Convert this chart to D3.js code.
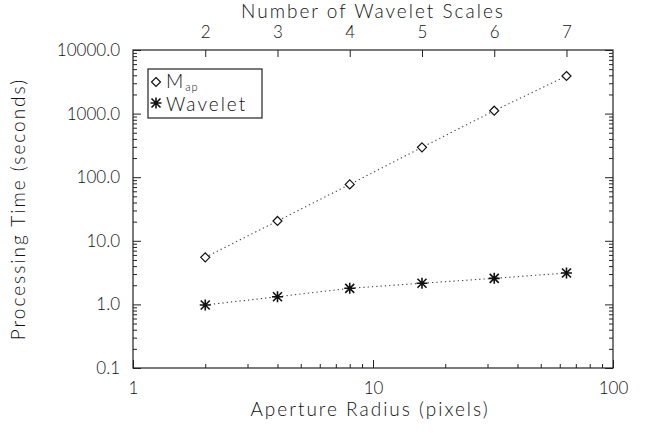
<!DOCTYPE html>
<html>
<head>
<meta charset="utf-8">
<script src="https://cdn.jsdelivr.net/npm/d3@7"></script>
<style>
  body { margin: 0; background: #fff; }
  svg text { font-family: Lato, "Liberation Sans", sans-serif; font-weight: 300; fill: #111; }
</style>
</head>
<body>
<div id="chart"></div>
<script>
// aperture radius (pixels), one point per wavelet scale
var radii = [2, 4, 8, 16, 32, 64]
var scales = [2, 3, 4, 5, 6, 7]
var mapTimes = [5.5, 20.5, 77, 295, 1110, 3900]
var waveletTimes = [0.98, 1.32, 1.79, 2.15, 2.57, 3.12]
var yTicks = [0.1, 1, 10, 100, 1000, 10000]
var xTicks = [1, 10, 100]

var W = 649, H = 433
var m = {left: 133, right: 36, top: 50, bottom: 65}

var svg = d3.select("#chart").append("svg")
    .attr("width", W).attr("height", H)

var x = d3.scaleLog().domain([1, 100]).range([m.left, W - m.right])
var y = d3.scaleLog().domain([0.1, 10000]).range([H - m.bottom, m.top])

// minor ticks for log axes
function minors(lo, hi) {
    var out = []
    for (var d = lo; d < hi; d *= 10)
        for (var k = 2; k < 10; k++) out.push(d * k)
    return out
}
var xMinor = minors(1, 100)
var yMinor = minors(0.1, 10000)

var fmtY = d3.format(".1f")

function styleAxis(g) {
    g.select(".domain").remove()
    g.selectAll("line").attr("stroke", "#222").attr("stroke-width", 1)
    g.selectAll("text").attr("font-size", "17px").attr("fill", "#111")
        .attr("font-family", "Lato, Liberation Sans, sans-serif")
        .attr("font-weight", 300)
}

// bottom axis
svg.append("g").attr("transform", "translate(0," + y.range()[0] + ")")
    .call(d3.axisBottom(x).tickValues(xTicks).tickFormat(d3.format("d"))
        .tickSizeInner(-8).tickSizeOuter(0).tickPadding(14))
    .call(styleAxis)
svg.append("g").attr("transform", "translate(0," + y.range()[0] + ")")
    .call(d3.axisBottom(x).tickValues(xMinor).tickFormat("")
        .tickSizeInner(-4).tickSizeOuter(0))
    .call(styleAxis)

// top axis: wavelet scales
svg.append("g").attr("transform", "translate(0," + m.top + ")")
    .call(d3.axisTop(x).tickValues(radii).tickFormat(function(d, i) { return scales[i] })
        .tickSizeInner(-7).tickSizeOuter(0).tickPadding(12))
    .call(styleAxis)

// left axis
svg.append("g").attr("transform", "translate(" + m.left + ",0)")
    .call(d3.axisLeft(y).tickValues(yTicks).tickFormat(fmtY)
        .tickSizeInner(-8).tickSizeOuter(0).tickPadding(13))
    .call(styleAxis)
svg.append("g").attr("transform", "translate(" + m.left + ",0)")
    .call(d3.axisLeft(y).tickValues(yMinor).tickFormat("")
        .tickSizeInner(-4).tickSizeOuter(0))
    .call(styleAxis)

// right axis (ticks only)
svg.append("g").attr("transform", "translate(" + (W - m.right) + ",0)")
    .call(d3.axisRight(y).tickValues(yTicks).tickFormat("")
        .tickSizeInner(-8).tickSizeOuter(0))
    .call(styleAxis)
svg.append("g").attr("transform", "translate(" + (W - m.right) + ",0)")
    .call(d3.axisRight(y).tickValues(yMinor).tickFormat("")
        .tickSizeInner(-4).tickSizeOuter(0))
    .call(styleAxis)

// frame
svg.append("rect")
    .attr("x", m.left).attr("y", m.top)
    .attr("width", W - m.right - m.left).attr("height", H - m.bottom - m.top)
    .attr("fill", "none").attr("stroke", "#222").attr("stroke-width", 1.2)

// titles
svg.append("text").attr("x", 370).attr("y", 416).attr("text-anchor", "middle")
    .attr("font-size", "19px").attr("letter-spacing", "2px")
    .text("Aperture Radius (pixels)")
svg.append("text").attr("x", 373).attr("y", 18).attr("text-anchor", "middle")
    .attr("font-size", "19px").attr("letter-spacing", "2px")
    .text("Number of Wavelet Scales")
svg.append("text").attr("transform", "translate(25,209) rotate(-90)")
    .attr("text-anchor", "middle")
    .attr("font-size", "19px").attr("letter-spacing", "2px")
    .text("Processing Time (seconds)")

// lines
var line = d3.line().x(function(d) { return x(d[0]) }).y(function(d) { return y(d[1]) })
function series(vals) { return radii.map(function(r, i) { return [r, vals[i]] }) }

svg.append("path").datum(series(mapTimes)).attr("d", line)
    .attr("fill", "none").attr("stroke", "#444").attr("stroke-width", 1.1)
    .attr("stroke-dasharray", "1.3,3")
svg.append("path").datum(series(waveletTimes)).attr("d", line)
    .attr("fill", "none").attr("stroke", "#444").attr("stroke-width", 1.1)
    .attr("stroke-dasharray", "1.3,3")

function diamond(g, cx, cy) {
    var s = 4.5
    g.append("path")
        .attr("d", "M" + cx + "," + (cy - s) + "L" + (cx + s) + "," + cy + "L" + cx + "," + (cy + s) + "L" + (cx - s) + "," + cy + "Z")
        .attr("fill", "#fff").attr("stroke", "#111").attr("stroke-width", 1.2)
}
function star(g, cx, cy) {
    var s = 5.5, d = 4.5
    g.append("path")
        .attr("d", "M" + cx + "," + (cy - s) + "V" + (cy + s) +
            "M" + (cx - d) + "," + (cy - d) + "L" + (cx + d) + "," + (cy + d) +
            "M" + (cx - d) + "," + (cy + d) + "L" + (cx + d) + "," + (cy - d) +
            "M" + (cx - s) + "," + cy + "H" + (cx + s))
        .attr("stroke", "#111").attr("stroke-width", 1.6)
}

var pts = svg.append("g")
radii.forEach(function(r, i) {
    diamond(pts, x(r), y(mapTimes[i]))
    star(pts, x(r), y(waveletTimes[i]))
})

// legend
var lg = svg.append("g")
lg.append("rect").attr("x", 148).attr("y", 69).attr("width", 114).attr("height", 49)
    .attr("fill", "#fff").attr("stroke", "#222").attr("stroke-width", 1.2)
diamond(lg, 156, 82)
star(lg, 156, 103)
var t = lg.append("text").attr("x", 166).attr("y", 88).attr("font-size", "19px").attr("letter-spacing", "2px")
t.append("tspan").text("M")
t.append("tspan").attr("font-size", "11px").attr("dy", 3).attr("letter-spacing", "1px").text("ap")
lg.append("text").attr("x", 166).attr("y", 111).attr("font-size", "19px").attr("letter-spacing", "2px")
    .text("Wavelet")
</script>
</body>
</html>
